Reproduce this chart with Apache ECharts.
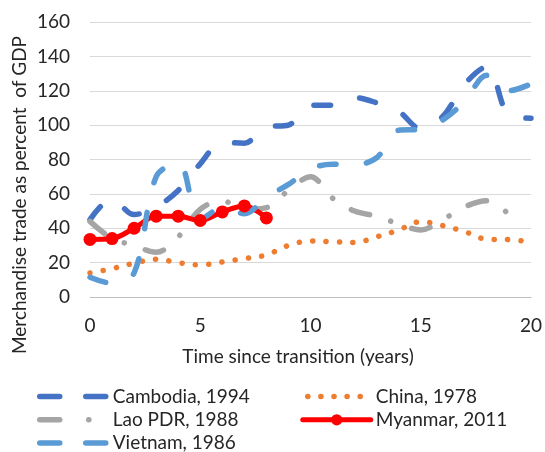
<!DOCTYPE html>
<html>
<head>
<meta charset="utf-8">
<script src="https://cdn.jsdelivr.net/npm/echarts@6/dist/echarts.min.js"></script>
<style>html,body{margin:0;padding:0;background:#fff}#c{width:545px;height:452px}</style>
</head>
<body>
<div id="c"></div>
<script>
const years = [0,1,2,3,4,5,6,7,8,9,10,11,12,13,14,15,16,17,18,19,20];
const cambodia = [45,57,48,52.5,62,77.5,90,89.5,99,100,111.5,111.5,116,113,108,98,105,124,134,106,104];
const china = [14,16.5,19.6,22,20,18.6,20.4,22.3,24.5,30,32.6,32.2,31.7,35,39,43.8,41.5,38,33.6,33.4,32];
const lao = [44,34,30,26,35,51,56,51,52,62,70,57.5,50,47,42.5,39,45,52.5,56,48];
const myanmar = [33.5,34,40,47,47,44.5,49.5,53,46];
const vietnam = [11.5,8,14,70,78,45,52,48.5,58,65.5,74.5,77.3,77,81,97,97.5,103,114,129,120,124];
const yTicks = [0,20,40,60,80,100,120,140,160];
const xTicks = [0,5,10,15,20];

const FONT = 'Lato';
const FS = 19;
const pairs = (arr) => arr.map((v, i) => [years[i], v]);
const noSym = {opacity: 0};

const chart = echarts.init(document.getElementById('c'), null, {renderer: 'canvas'});
const W = 5.5;
const legendBase = {orient: 'vertical', itemWidth: 68, itemHeight: 14, itemGap: 4.3, padding: 0, height: 80,
  textStyle: {fontSize: FS, color: '#262626', fontFamily: FONT, lineHeight: 18}};
chart.setOption({
  animation: false,
  textStyle: {fontFamily: FONT},
  grid: {left: 90, right: 13, top: 22, bottom: 155, containLabel: false},
  xAxis: {
    type: 'value', min: xTicks[0], max: xTicks[xTicks.length-1], interval: 5,
    axisLine: {show: true, lineStyle: {color: '#BFBFBF', width: 1}},
    axisTick: {show: false},
    splitLine: {show: false},
    axisLabel: {fontSize: FS, color: '#262626', margin: 19, fontFamily: FONT}
  },
  yAxis: {
    type: 'value', min: yTicks[0], max: yTicks[yTicks.length-1], interval: 20,
    axisLine: {show: false}, axisTick: {show: false},
    splitLine: {lineStyle: {color: '#D9D9D9', width: 1}},
    axisLabel: {fontSize: FS, color: '#262626', margin: 20, fontFamily: FONT}
  },
  graphic: [
    {type: 'text', x: 298, y: 357, style: {text: 'Time since transition (years)', font: FS + 'px ' + FONT, fill: '#262626', textAlign: 'center', textVerticalAlign: 'middle'}},
    {type: 'text', x: 20, y: 195, rotation: Math.PI/2, style: {text: 'Merchandise trade as percent  of GDP', font: FS + 'px ' + FONT, fill: '#262626', textAlign: 'center', textVerticalAlign: 'middle'}}
  ],
  legend: [
    Object.assign({}, legendBase, {left: 37, top: 387, data: [
      {name: 'Cambodia, 1994', itemStyle: noSym, lineStyle: {width: W, cap: 'round', type: [20, 26]}},
      {name: 'Lao PDR, 1988', itemStyle: noSym, lineStyle: {width: W, cap: 'round', type: [20, 29, 0.1, 40]}},
      {name: 'Vietnam, 1986', itemStyle: noSym, lineStyle: {width: W, cap: 'round', type: [20, 26]}}]}),
    Object.assign({}, legendBase, {left: 300, top: 387, data: [
      {name: 'China, 1978', itemStyle: noSym, lineStyle: {width: W, cap: 'round', type: [0.1, 13], dashOffset: -5}},
      {name: 'Myanmar, 2011', lineStyle: {width: 5, cap: 'round'}}]})
  ],
  series: [
    {name: 'Cambodia, 1994', type: 'line', data: pairs(cambodia), smooth: 0.35, symbol: 'none',
     lineStyle: {color: '#4472C4', width: W, type: [16.5, 30.5], cap: 'round', join: 'round'}, itemStyle: {color: '#4472C4'}},
    {name: 'China, 1978', type: 'line', data: pairs(china), smooth: 0.35, symbol: 'none',
     lineStyle: {color: '#ED7D31', width: W, type: [0.1, 13.3], cap: 'round', join: 'round'}, itemStyle: {color: '#ED7D31'}},
    {name: 'Lao PDR, 1988', type: 'line', data: pairs(lao), smooth: 0.35, symbol: 'none',
     lineStyle: {color: '#A5A5A5', width: W, type: [19, 22, 0.1, 22], cap: 'round', join: 'round'}, itemStyle: {color: '#A5A5A5'}},
    {name: 'Myanmar, 2011', type: 'line', data: pairs(myanmar), smooth: 0.35, symbol: 'circle', symbolSize: 13,
     lineStyle: {color: '#FF0000', width: 5, cap: 'round', join: 'round'}, itemStyle: {color: '#FF0000'}},
    {name: 'Vietnam, 1986', type: 'line', data: pairs(vietnam), smooth: 0.35, symbol: 'none',
     lineStyle: {color: '#5B9BD5', width: W, type: [16.5, 30.5], cap: 'round', join: 'round'}, itemStyle: {color: '#5B9BD5'}}
  ]
});
</script>
</body>
</html>
